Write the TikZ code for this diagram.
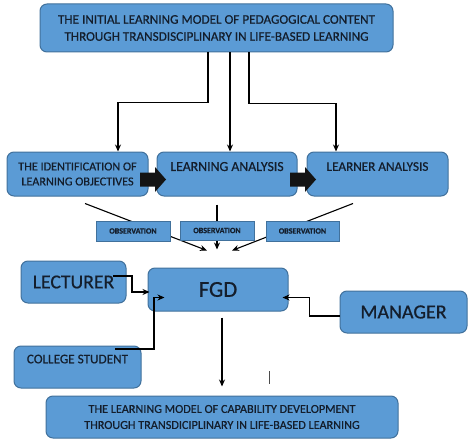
\documentclass[tikz,border=0pt]{standalone}
\usepackage{fontspec}
\setmainfont{Carlito}[FakeBold=0.6]
\usetikzlibrary{arrows.meta,calc}
\definecolor{boxfill}{HTML}{5B9BD5}
\definecolor{boxline}{HTML}{41719C}
\definecolor{txt}{HTML}{141E2C}
\tikzset{
  box/.style={draw=boxline, line width=1pt, fill=boxfill, rounded corners=7pt, inner sep=0pt, align=center, text=txt},
  obsbox/.style={draw=boxline, line width=0.8pt, fill=boxfill, inner sep=0pt, align=center, text=txt, font=\fontsize{8}{8}\selectfont\bfseries},
  conn/.style={draw=black, line width=1.3pt, -{Stealth[length=7pt,width=6pt]}},
  blk/.style={fill=black!92},
}
\begin{document}
\begin{tikzpicture}[x=1pt,y=-1pt]
\useasboundingbox (0,0) rectangle (474,444);
% top row
\node[box, minimum width=353, minimum height=48, font=\fontsize{13.2}{17}\selectfont] (top) at (216.5,28)
  {THE INITIAL LEARNING MODEL OF PEDAGOGICAL CONTENT\\THROUGH TRANSDISCIPLINARY IN LIFE-BASED LEARNING};
% middle row
\node[box, minimum width=141, minimum height=44, font=\fontsize{12.2}{15}\selectfont] (b1) at (77.5,174)
  {THE IDENTIFICATION OF\\LEARNING OBJECTIVES};
\node[box, minimum width=140, minimum height=44, font=\fontsize{13.8}{15}\selectfont] (b2) at (227,174)
  {LEARNING ANALYSIS\\\mbox{}};
\node[box, minimum width=141, minimum height=44, font=\fontsize{13.2}{15}\selectfont] (b3) at (377.5,174)
  {LEARNER ANALYSIS\\\mbox{}};
% block arrows
\fill[blk] (140,172.5) -- (155,172.5) -- (155,167) -- (166,179.5) -- (155,192) -- (155,186.5) -- (140,186.5) -- cycle;
\fill[blk] (290,172.5) -- (305,172.5) -- (305,167) -- (316,179.5) -- (305,192) -- (305,186.5) -- (290,186.5) -- cycle;
% connectors from top
\draw[conn] ([xshift=-8.5]top.south) -- ++(0,50) -| ([xshift=40.5]b1.north);
\draw[conn] ([xshift=13.5]top.south) -- ([xshift=3]b2.north);
\draw[conn] ([xshift=32.5]top.south) -- ++(0,51) -| ([xshift=-41.5]b3.north);
% FGD
\node[box, minimum width=140, minimum height=43, font=\fontsize{22.7}{24}\selectfont] (fgd) at (218,289.5) {FGD};
% observation lines
\draw[conn, line width=1.1pt] ([shift={(7.5,7)}]b1.south) -- ([shift={(-11,-17)}]fgd.north);
\draw[conn, line width=1.1pt] ([shift={(-10,8)}]b2.south) -- ([shift={(-1,-18)}]fgd.north);
\draw[conn, line width=1.1pt] ([shift={(-24.5,7)}]b3.south) -- ([shift={(14,-17)}]fgd.north);
\node[obsbox, minimum width=74, minimum height=20] (o1) at (133,231) {OBSERVATION};
\node[obsbox, minimum width=74, minimum height=19] (o2) at (217,230.5) {OBSERVATION};
\node[obsbox, minimum width=73, minimum height=20] (o3) at (302.5,231) {OBSERVATION};
% people
\node[box, minimum width=105, minimum height=42, font=\fontsize{19.7}{20}\selectfont] (lect) at (73.5,282) {LECTURER};
\node[box, minimum width=127, minimum height=42, font=\fontsize{20}{20}\selectfont] (mgr) at (403.5,312) {MANAGER};
\node[box, minimum width=127, minimum height=42, font=\fontsize{13.2}{16}\selectfont] (coll) at (77.5,367) {COLLEGE STUDENT\\\mbox{}};
% bottom
\node[box, minimum width=352, minimum height=42, font=\fontsize{12.2}{16}\selectfont] (bot) at (222,417)
  {THE LEARNING MODEL OF CAPABILITY DEVELOPMENT\\THROUGH TRANSDICIPLINARY IN LIFE-BASED LEARNING};
% connectors to FGD
\draw[conn] ([shift={(39.5,-6)}]lect.center) -- ++(19,0) |- ([shift={(2,2.5)}]fgd.west);
\draw[conn] ([shift={(37.5,-18)}]coll.center) -- ++(39,0) |- ([shift={(17,8)}]fgd.west);
\draw[conn] ([yshift=-4]mgr.west) -- ++(-30,0) |- ([shift={(-6,8)}]fgd.east);
\draw[conn] ([shift={(4,6)}]fgd.south) -- ([shift={(0,-9)}]bot.north);
% stray mark
\draw[black!70, line width=1pt] (269,371) -- (269,384);
\end{tikzpicture}
\end{document}
